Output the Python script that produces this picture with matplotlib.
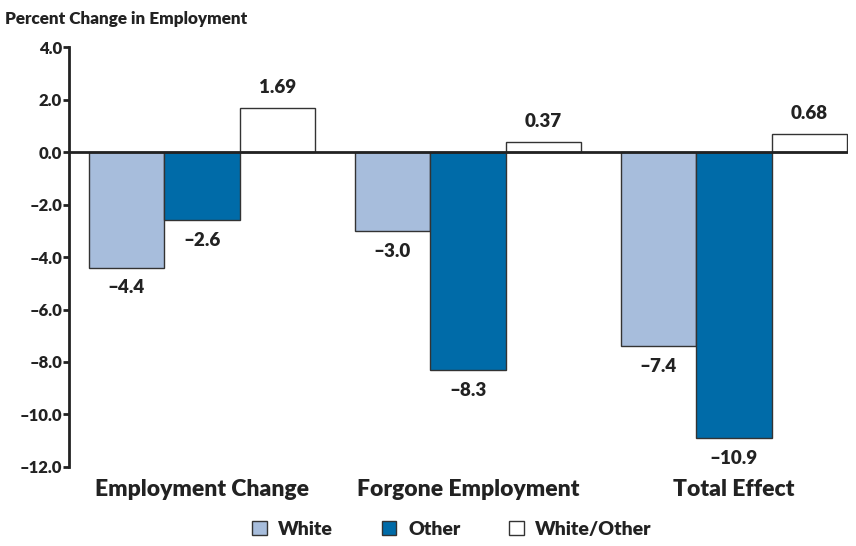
import matplotlib
matplotlib.use('Agg')
import matplotlib.pyplot as plt
from matplotlib.patches import Patch
import numpy as np

plt.rcParams['font.family'] = ['Lato', 'DejaVu Sans']

# data
categories = ['Employment Change', 'Forgone Employment', 'Total Effect']
series = ['White', 'Other', 'White/Other']
white = [-4.4, -3.0, -7.4]
other = [-2.6, -8.3, -10.9]
ratio = [1.69, 0.37, 0.68]
value_labels = [['\u20134.4', '\u20133.0', '\u20137.4'],
                ['\u20132.6', '\u20138.3', '\u201310.9'],
                ['1.69', '0.37', '0.68']]
yticks = [4, 2, 0, -2, -4, -6, -8, -10, -12]

colors = ['#a7bddc', '#006ba8', '#ffffff']
edge = '#333333'
txt = '#222222'
wt = 'heavy'

fig = plt.figure(figsize=(8.56, 5.46), dpi=100)
ax = fig.add_axes([0.0806, 0.1447, 0.9102, 0.7692])

x = np.arange(len(categories))
w = 0.284
for i, vals in enumerate([white, other, ratio]):
    pos = x + (i - 1) * w
    ax.bar(pos, vals, w, color=colors[i], edgecolor=edge, linewidth=1.0, zorder=2)
    for p, v, lab in zip(pos, vals, value_labels[i]):
        if v < 0:
            ax.text(p, v - 0.45, lab, ha='center', va='top', fontsize=13.5, fontweight=wt, color=txt)
        else:
            ax.text(p, v + 0.45, lab, ha='center', va='bottom', fontsize=13.5, fontweight=wt, color=txt)

ax.axhline(0, color=txt, linewidth=2, zorder=3)
ax.set_xlim(-0.5, 2.43)
ax.set_ylim(-12, 4)
ax.set_yticks(yticks)
ax.set_yticklabels([('%.1f' % t).replace('-', '\u2013') for t in yticks],
                   fontsize=12, fontweight=wt, color=txt)
ax.tick_params(axis='y', direction='out', length=4, width=2, color=txt, pad=1)
ax.set_xticks(x)
ax.set_xticklabels(categories, fontsize=16.5, fontweight=wt, color=txt)
ax.tick_params(axis='x', length=0, pad=9)

for s in ['top', 'right', 'bottom']:
    ax.spines[s].set_visible(False)
ax.spines['left'].set_linewidth(2)
ax.spines['left'].set_color(txt)

fig.text(0.006, 0.966, 'Percent Change in Employment', fontsize=12.3, fontweight=wt,
         color=txt, va='center')

handles = [Patch(facecolor=colors[i], edgecolor=edge, label=series[i]) for i in range(3)]
fig.legend(handles=handles, loc='center', bbox_to_anchor=(0.528, 0.03), ncol=3, frameon=False,
           handlelength=0.75, handleheight=0.75, columnspacing=2.5, handletextpad=0.6,
           prop={'weight': wt, 'size': 14}, labelcolor=txt)

fig.savefig('out.png', dpi=100)
